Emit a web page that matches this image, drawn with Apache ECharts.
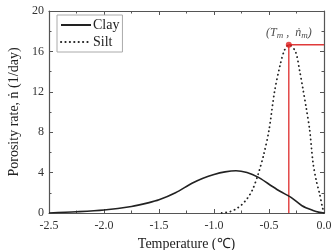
<!DOCTYPE html>
<html>
<head>
<meta charset="utf-8">
<script src="https://cdn.jsdelivr.net/npm/echarts@6/dist/echarts.min.js"></script>
<style>
  html, body { margin: 0; padding: 0; background: #fff; }
  #chart { width: 334px; height: 250px; }
</style>
</head>
<body>
<div id="chart"></div>
<script>
// values: [temperature, rate]
const clayData = [
  [-2.5, 0], [-2.25, 0.12], [-2.0, 0.3], [-1.75, 0.65], [-1.6, 1.0],
  [-1.5, 1.3], [-1.35, 2.0], [-1.2, 2.95], [-1.1, 3.45], [-1.0, 3.82],
  [-0.9, 4.07], [-0.8, 4.18], [-0.7, 4.0], [-0.6, 3.55], [-0.5, 2.85],
  [-0.4, 2.15], [-0.3, 1.55], [-0.2, 0.72], [-0.1, 0.25], [-0.04, 0.06], [0, 0]
];
const siltData = [
  [-0.93, 0], [-0.85, 0.15], [-0.8, 0.4], [-0.75, 0.8], [-0.7, 1.4],
  [-0.65, 2.3], [-0.6, 3.8], [-0.55, 5.7], [-0.5, 8.2], [-0.45, 12.0],
  [-0.4, 14.6], [-0.36, 16.1], [-0.32, 16.66], [-0.26, 16.0], [-0.22, 14.0],
  [-0.19, 12.2], [-0.16, 10.3], [-0.13, 8.2], [-0.1, 5.0], [-0.07, 3.2],
  [-0.04, 1.9], [-0.015, 0.6], [0, 0]
];
const peak = [-0.32, 16.66];
const guideData = [[peak[0], 0], peak, [0, peak[1]]];
const seriesNames = ['Clay', 'Silt'];

const serif = 'Liberation Serif, Times New Roman, serif';
const axisColor = '#555';

const frameAxis = (extra) => Object.assign({
  type: 'value',
  axisLine: { show: true, onZero: false, lineStyle: { color: axisColor, width: 1.2 } },
  axisTick: { show: true, inside: true, length: 4, lineStyle: { color: axisColor } },
  minorTick: { show: true, splitNumber: 2, length: 2.5, lineStyle: { color: axisColor } },
  splitLine: { show: false },
  axisLabel: { show: false }
}, extra);

const option = {
  animation: false,
  grid: { left: 49, right: 10, top: 11, bottom: 37, outerBoundsMode: 'none' },
  legend: {
    data: seriesNames,
    orient: 'vertical',
    left: 57,
    top: 15,
    itemWidth: 30,
    itemHeight: 10,
    itemGap: 3,
    padding: [3, 3, 3, 3],
    borderColor: '#aaa',
    borderWidth: 1,
    itemStyle: { color: 'transparent', borderWidth: 0 },
    textStyle: { fontFamily: serif, fontSize: 14, color: '#222', padding: [0, 0, 0, -3] }
  },
  xAxis: [
    frameAxis({
      min: -2.5, max: 0, interval: 0.5,
      position: 'bottom',
      name: 'Temperature (℃)',
      nameLocation: 'middle',
      nameGap: 23,
      nameTextStyle: { fontFamily: serif, fontSize: 14, color: '#222' },
      axisLabel: {
        show: true, margin: 7, fontFamily: serif, fontSize: 12, color: '#333',
        formatter: (v) => v.toFixed(1)
      }
    }),
    frameAxis({ min: -2.5, max: 0, interval: 0.5, position: 'top' })
  ],
  yAxis: [
    frameAxis({
      min: 0, max: 20, interval: 4,
      position: 'left',
      name: 'Porosity rate, ṅ (1/day)',
      nameLocation: 'middle',
      nameGap: 28,
      nameTextStyle: { fontFamily: serif, fontSize: 14, color: '#222' },
      axisLabel: { show: true, margin: 5, fontFamily: serif, fontSize: 12, color: '#333' }
    }),
    frameAxis({ min: 0, max: 20, interval: 4, position: 'right' })
  ],
  series: [
    {
      name: 'Clay',
      type: 'line',
      data: clayData,
      smooth: 0.3,
      symbol: 'none',
      lineStyle: { color: '#222', width: 1.6 },
      itemStyle: { color: '#222' }
    },
    {
      name: 'Silt',
      type: 'line',
      data: siltData,
      smooth: 0.3,
      symbol: 'none',
      lineStyle: { color: '#222', width: 1.8, type: [0.2, 4.2], cap: 'round' },
      itemStyle: { color: '#222' }
    },
    {
      name: 'guide',
      type: 'line',
      data: guideData,
      symbol: 'none',
      lineStyle: { color: '#e03a3a', width: 1.4 },
      z: 1
    },
    {
      name: 'peak',
      type: 'scatter',
      data: [peak],
      symbolSize: 6,
      itemStyle: { color: '#e02020' },
      label: {
        show: true,
        position: 'top',
        distance: 2,
        formatter: '{i|(T}{s|m}{i| ,  ṅ}{s|m}{i|)}',
        rich: {
          i: { fontFamily: serif, fontStyle: 'italic', fontSize: 12, color: '#222' },
          s: { fontFamily: serif, fontStyle: 'italic', fontSize: 9, color: '#222', verticalAlign: 'bottom', padding: [5, 0, 0, 0] }
        }
      },
      z: 5
    }
  ]
};

const myChart = echarts.init(document.getElementById('chart'));
myChart.setOption(option);
</script>
</body>
</html>
